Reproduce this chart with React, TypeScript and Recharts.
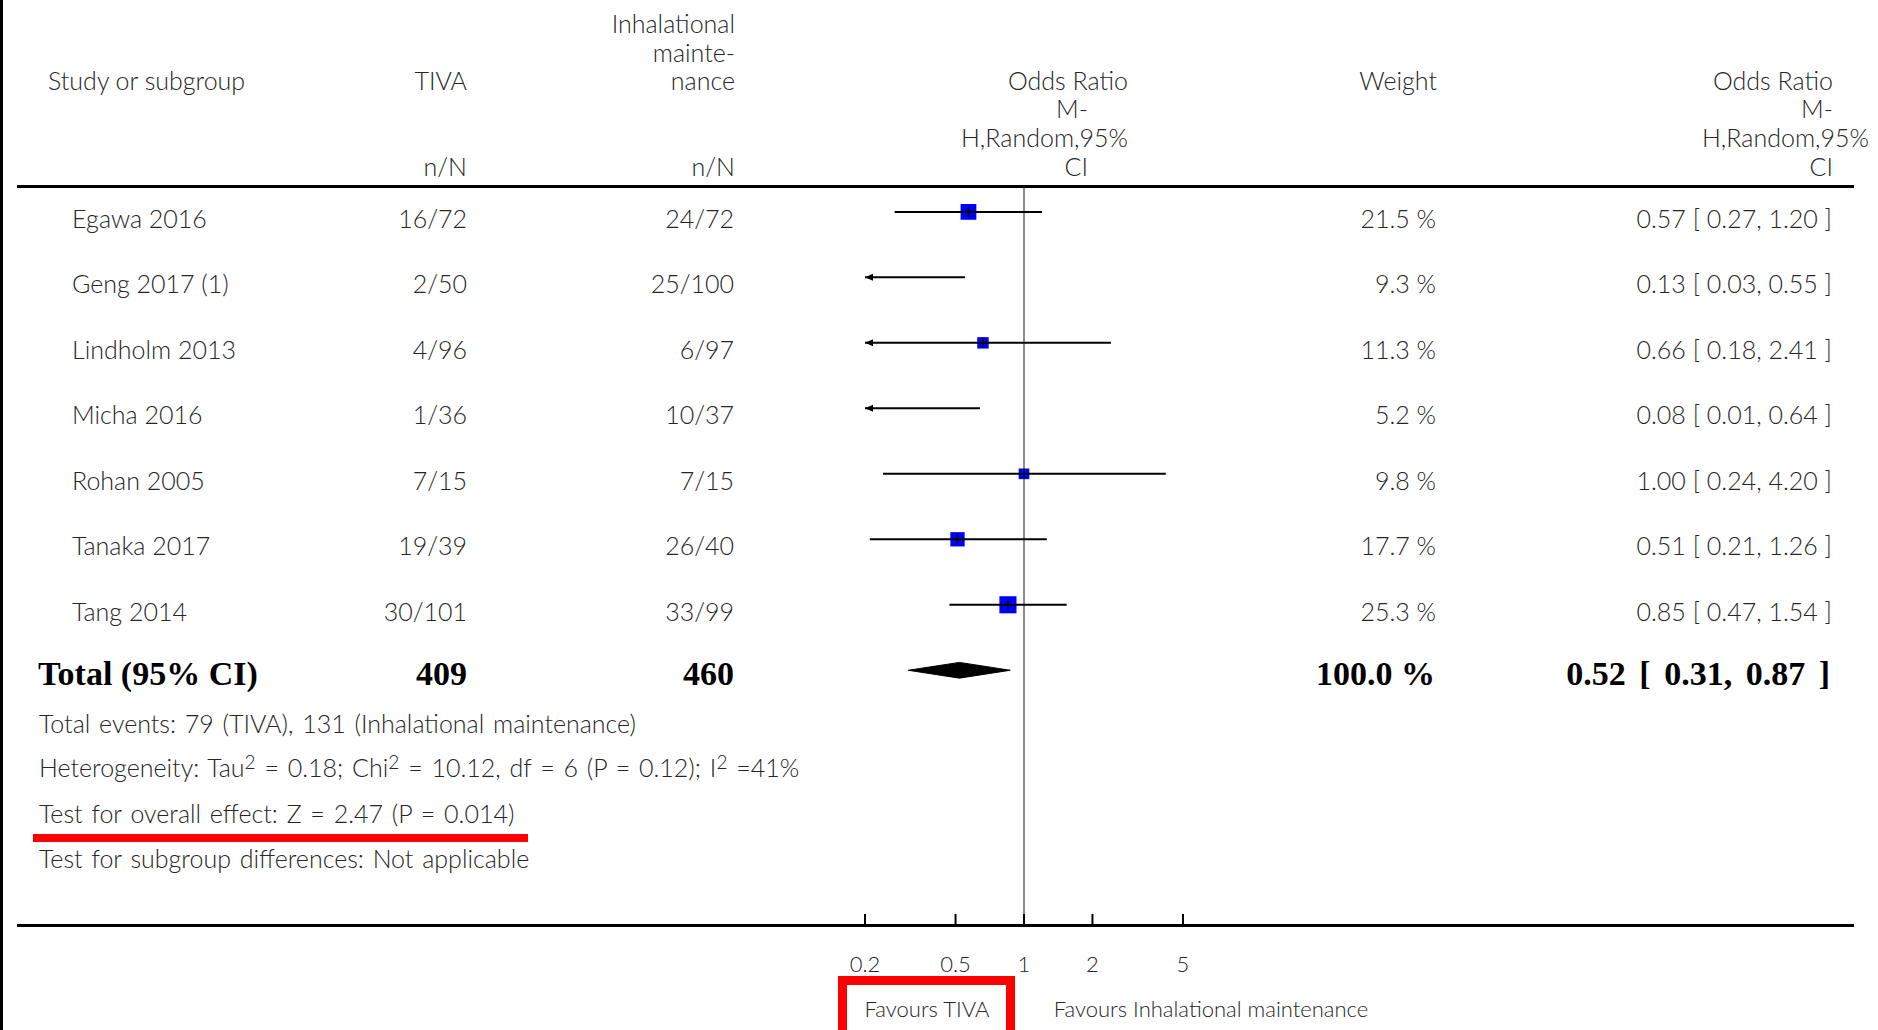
import React from 'react';
import { ComposedChart, Scatter, XAxis, YAxis, ReferenceLine } from 'recharts';

// ---------- data ----------
const studies = ['Egawa 2016', 'Geng 2017 (1)', 'Lindholm 2013', 'Micha 2016', 'Rohan 2005', 'Tanaka 2017', 'Tang 2014'];
const tivaEvents = ['16/72', '2/50', '4/96', '1/36', '7/15', '19/39', '30/101'];
const inhalEvents = ['24/72', '25/100', '6/97', '10/37', '7/15', '26/40', '33/99'];
const weights = [21.5, 9.3, 11.3, 5.2, 9.8, 17.7, 25.3];
const oddsRatio = [0.57, 0.13, 0.66, 0.08, 1.0, 0.51, 0.85];
const ciLow = [0.27, 0.03, 0.18, 0.01, 0.24, 0.21, 0.47];
const ciHigh = [1.2, 0.55, 2.41, 0.64, 4.2, 1.26, 1.54];

const totalLabel = 'Total (95% CI)';
const totalTiva = '409';
const totalInhal = '460';
const totalWeight = 100.0;
const totalOR = 0.52;
const totalLow = 0.31;
const totalHigh = 0.87;

const xTicks = [0.2, 0.5, 1, 2, 5];
const xDomain: [number, number] = [0.2, 5];

const footTotalEvents = 'Total events: 79 (TIVA), 131 (Inhalational maintenance)';
const footTest = 'Test for overall effect: Z = 2.47 (P = 0.014)';
const footSubgroup = 'Test for subgroup differences: Not applicable';
const favourLeft = 'Favours TIVA';
const favourRight = 'Favours Inhalational maintenance';

// ---------- styles ----------
const SANS = "Lato, 'Noto Sans', sans-serif";
const SERIF = "'Liberation Serif', 'DejaVu Serif', serif";
const TXT = '#262626';
const FS = 25;
const W = 1878;
const H = 1030;

const fmt2 = (v: number) => v.toFixed(2);
const orText = (o: number, l: number, h: number) => `${fmt2(o)} [ ${fmt2(l)}, ${fmt2(h)} ]`;

// derived tables
const textRows = studies.map((name, i) => ({
  x: 0.5,
  y: i,
  name,
  tiva: tivaEvents[i],
  inhal: inhalEvents[i],
  weight: `${weights[i].toFixed(1)} %`,
  or: orText(oddsRatio[i], ciLow[i], ciHigh[i]),
  total: false,
}));
textRows.push({
  x: 0.5,
  y: studies.length,
  name: totalLabel,
  tiva: totalTiva,
  inhal: totalInhal,
  weight: `${totalWeight.toFixed(1)} %`,
  or: orText(totalOR, totalLow, totalHigh),
  total: true,
});

const ciSeries = studies.map((_, i) => [
  { x: Math.max(ciLow[i], xDomain[0]), y: i, clipL: ciLow[i] < xDomain[0], clipR: false },
  { x: Math.min(ciHigh[i], xDomain[1]), y: i, clipL: false, clipR: ciHigh[i] > xDomain[1] },
]);

const squares = studies
  .map((_, i) => ({ x: oddsRatio[i], y: i, w: weights[i] }))
  .filter((d) => d.x >= xDomain[0] && d.x <= xDomain[1]);

const diamondHalf = 0.12;
const diamond = [
  { x: totalLow, y: studies.length },
  { x: totalOR, y: studies.length - diamondHalf },
  { x: totalHigh, y: studies.length },
  { x: totalOR, y: studies.length + diamondHalf },
];

// ---------- shapes ----------
const RowText = (props: any) => {
  const { cy, payload } = props;
  if (cy == null || !payload) return <g />;
  if (payload.total) {
    const b = cy + 15;
    return (
      <g fontFamily={SERIF} fontWeight={700} fontSize={34} fill="#000">
        <text x={38} y={b}>{payload.name}</text>
        <text x={467} y={b} textAnchor="end">{payload.tiva}</text>
        <text x={734} y={b} textAnchor="end">{payload.inhal}</text>
        <text x={1435} y={b} textAnchor="end">{payload.weight}</text>
        <text x={1830} y={b} textAnchor="end" wordSpacing={5}>{payload.or}</text>
      </g>
    );
  }
  const b = cy + 16;
  return (
    <g fontFamily={SANS} fontSize={FS} fill={TXT} fontWeight={300}>
      <text x={72} y={b}>{payload.name}</text>
      <text x={467} y={b} textAnchor="end">{payload.tiva}</text>
      <text x={734} y={b} textAnchor="end">{payload.inhal}</text>
      <text x={1436} y={b} textAnchor="end">{payload.weight}</text>
      <text x={1832} y={b} textAnchor="end">{payload.or}</text>
    </g>
  );
};

const CiEnd = (props: any) => {
  const { cx, cy, payload } = props;
  if (cx == null || !payload) return <g />;
  if (payload.clipL) {
    return <polygon points={`${cx},${cy} ${cx + 8},${cy - 3.5} ${cx + 8},${cy + 3.5}`} fill="#000" />;
  }
  if (payload.clipR) {
    return <polygon points={`${cx},${cy} ${cx - 8},${cy - 3.5} ${cx - 8},${cy + 3.5}`} fill="#000" />;
  }
  return <g />;
};

const Square = (props: any) => {
  const { cx, cy, payload } = props;
  if (cx == null || !payload) return <g />;
  const s = 3.4 * Math.sqrt(payload.w);
  return (
    <g>
      <rect x={cx - s / 2} y={cy - s / 2} width={s} height={s} fill="#0000ff" />
      <line x1={cx - s / 2} x2={cx + s / 2} y1={cy} y2={cy} stroke="#000" strokeWidth={2} />
      <line x1={cx} x2={cx} y1={cy - 5} y2={cy + 5} stroke="#000" strokeWidth={1.5} />
    </g>
  );
};

const Empty = () => <g />;

const Tick = (props: any) => {
  const { x, y, payload } = props;
  return (
    <g>
      <line x1={x} x2={x} y1={y - 11} y2={y} stroke="#000" strokeWidth={2} />
      <text x={x} y={y + 47} textAnchor="middle" fontFamily={SANS} fontSize={22} fill={TXT} fontWeight={300}>
        {String(payload.value)}
      </text>
    </g>
  );
};

// header helper
const hdr = (x: number, y: number, t: string, anchor: 'start' | 'end' = 'end') => (
  <text key={`${t}-${x}-${y}`} x={x} y={y} textAnchor={anchor}>{t}</text>
);

export default function App() {
  return (
    <div style={{ position: 'fixed', left: 0, top: 0, width: W, height: H, background: '#fff', overflow: 'hidden' }}>
      <div style={{ position: 'absolute', left: 0, top: 0 }}>
        <ComposedChart width={W} height={H} margin={{ top: 187, right: W - 1183, bottom: 45, left: 865 }}>
          <XAxis
            dataKey="x"
            type="number"
            scale="log"
            domain={xDomain}
            ticks={xTicks}
            interval={0}
            axisLine={false}
            tickLine={false}
            tickSize={0}
            tickMargin={0}
            height={60}
            tick={<Tick />}
          />
          <XAxis xAxisId="txt" dataKey="x" type="number" domain={[0, 1]} hide />
          <YAxis dataKey="y" type="number" domain={[-0.38, 10.89]} reversed hide />
          <ReferenceLine x={1} stroke="#8c8c8c" strokeWidth={2} />
          {ciSeries.map((d, i) => (
            <Scatter
              key={`ci-${i}`}
              data={d}
              fill="#000"
              line={{ stroke: '#000', strokeWidth: 2 }}
              shape={<CiEnd />}
              isAnimationActive={false}
            />
          ))}
          <Scatter data={squares} fill="#0000ff" shape={<Square />} isAnimationActive={false} />
          <Scatter
            data={diamond}
            fill="#000"
            line={{ stroke: '#000', fill: '#000', strokeWidth: 1 }}
            lineJointType="linearClosed"
            shape={<Empty />}
            isAnimationActive={false}
          />
          <Scatter xAxisId="txt" data={textRows} fill={TXT} shape={<RowText />} isAnimationActive={false} />
        </ComposedChart>
      </div>
      <svg
        width={W}
        height={H}
        style={{ position: 'absolute', left: 0, top: 0, pointerEvents: 'none' }}
      >
        <rect x={0} y={0} width={3} height={H} fill="#000" />
        <rect x={17} y={185} width={1837} height={3} fill="#000" />
        <rect x={17} y={924} width={1837} height={3} fill="#000" />
        <g fontFamily={SANS} fontSize={FS} fill={TXT} fontWeight={300}>
          {hdr(48, 90, 'Study or subgroup', 'start')}
          {hdr(467, 90, 'TIVA')}
          {hdr(467, 176, 'n/N')}
          {hdr(735, 33, 'Inhalational')}
          {hdr(735, 62, 'mainte-')}
          {hdr(735, 90, 'nance')}
          {hdr(735, 176, 'n/N')}
          {hdr(1128, 90, 'Odds Ratio')}
          {hdr(1088, 118, 'M-')}
          {hdr(1128, 147, 'H,Random,95%')}
          {hdr(1088, 176, 'CI')}
          {hdr(1437, 90, 'Weight')}
          {hdr(1833, 90, 'Odds Ratio')}
          {hdr(1833, 118, 'M-')}
          {hdr(1869, 147, 'H,Random,95%')}
          {hdr(1833, 176, 'CI')}
        </g>
        <g fontFamily={SANS} fontSize={FS} fill={TXT} fontWeight={300} wordSpacing={2}>
          <text x={39} y={733}>{footTotalEvents}</text>
          <text x={39} y={777}>
            Heterogeneity: Tau<tspan dy={-8} fontSize={19}>2</tspan>
            <tspan dy={8}> = 0.18; Chi</tspan>
            <tspan dy={-8} fontSize={19}>2</tspan>
            <tspan dy={8}> = 10.12, df = 6 (P = 0.12); I</tspan>
            <tspan dy={-8} fontSize={19}>2</tspan>
            <tspan dy={8}> =41%</tspan>
          </text>
          <text x={39} y={823}>{footTest}</text>
          <text x={39} y={868}>{footSubgroup}</text>
        </g>
        <rect x={33} y={834} width={495} height={8} fill="#ff0000" />
        <g fontFamily={SANS} fontSize={22} fill={TXT} fontWeight={300}>
          <text x={927} y={1017} textAnchor="middle">{favourLeft}</text>
          <text x={1211} y={1017} textAnchor="middle">{favourRight}</text>
        </g>
        <rect x={842.5} y={980.5} width={168} height={120} fill="none" stroke="#ff0000" strokeWidth={9} />
      </svg>
    </div>
  );
}
